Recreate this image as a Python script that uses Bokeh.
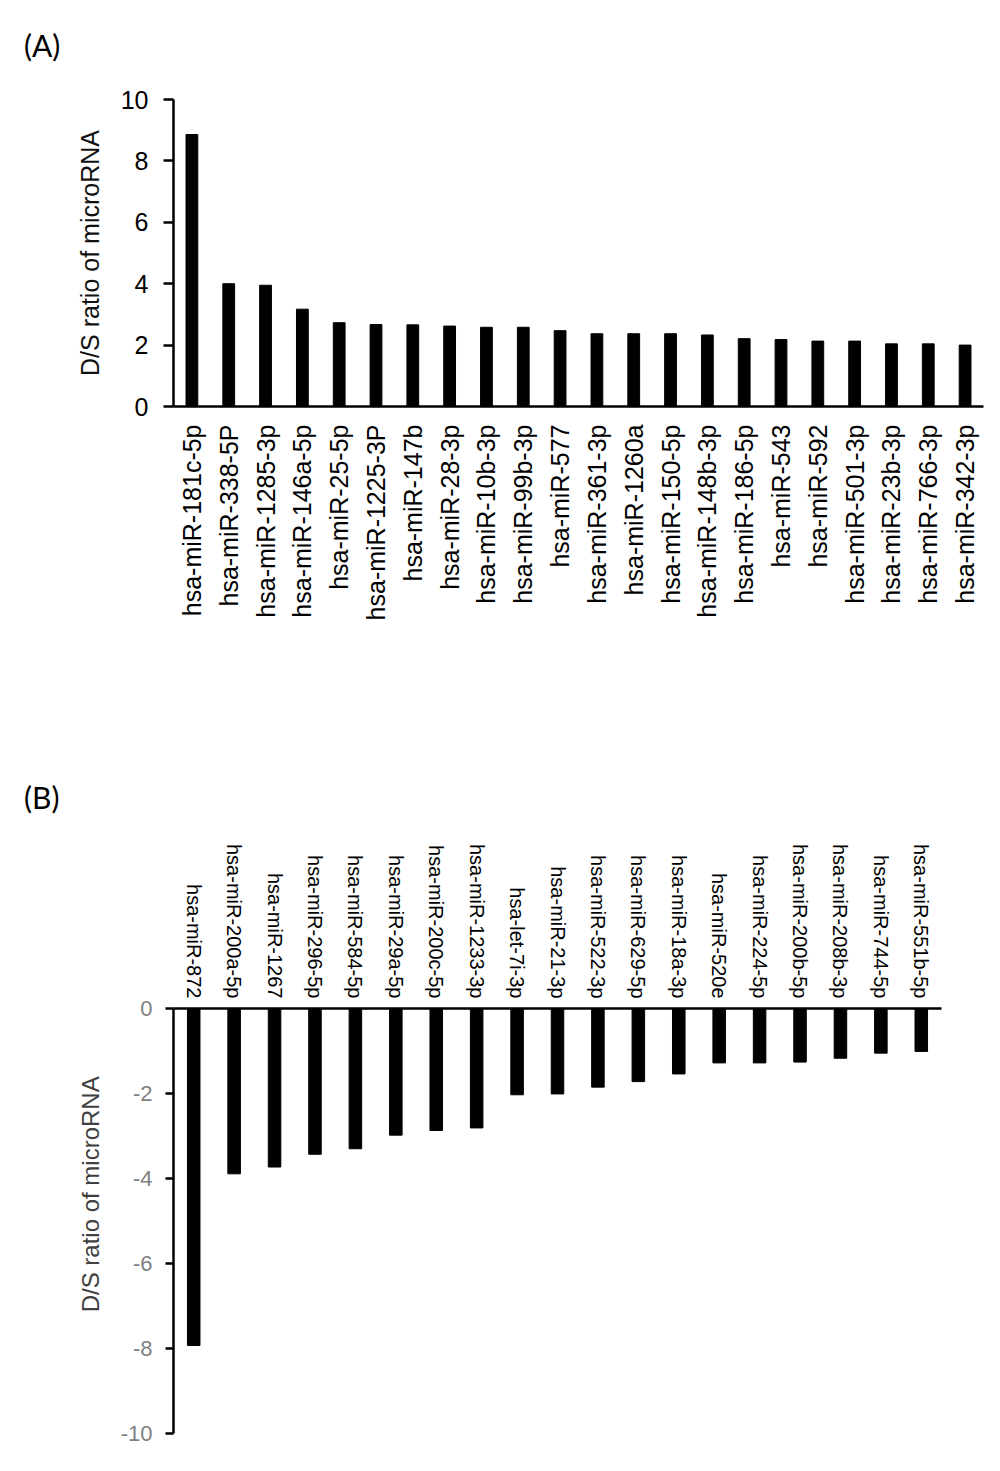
import math
from bokeh.plotting import figure
from bokeh.models import Div, FixedTicker, Range1d, CustomJSTickFormatter
from bokeh.layouts import column
from bokeh.embed import file_html
from bokeh.resources import INLINE

# ---- data ----
up_names = ["hsa-miR-181c-5p", "hsa-miR-338-5P", "hsa-miR-1285-3p", "hsa-miR-146a-5p",
            "hsa-miR-25-5p", "hsa-miR-1225-3P", "hsa-miR-147b", "hsa-miR-28-3p",
            "hsa-miR-10b-3p", "hsa-miR-99b-3p", "hsa-miR-577", "hsa-miR-361-3p",
            "hsa-miR-1260a", "hsa-miR-150-5p", "hsa-miR-148b-3p", "hsa-miR-186-5p",
            "hsa-miR-543", "hsa-miR-592", "hsa-miR-501-3p", "hsa-miR-23b-3p",
            "hsa-miR-766-3p", "hsa-miR-342-3p"]
up_values = [8.86, 4.00, 3.95, 3.17, 2.73, 2.67, 2.66, 2.62, 2.58, 2.58, 2.47, 2.37,
             2.37, 2.37, 2.33, 2.21, 2.18, 2.13, 2.13, 2.04, 2.04, 2.00]

down_names = ["hsa-miR-872", "hsa-miR-200a-5p", "hsa-miR-1267", "hsa-miR-296-5p",
              "hsa-miR-584-5p", "hsa-miR-29a-5p", "hsa-miR-200c-5p", "hsa-miR-1233-3p",
              "hsa-let-7i-3p", "hsa-miR-21-3p", "hsa-miR-522-3p", "hsa-miR-629-5p",
              "hsa-miR-18a-3p", "hsa-miR-520e", "hsa-miR-224-5p", "hsa-miR-200b-5p",
              "hsa-miR-208b-3p", "hsa-miR-744-5p", "hsa-miR-551b-5p"]
down_values = [-7.93, -3.89, -3.73, -3.43, -3.30, -2.98, -2.87, -2.81, -2.03, -2.01,
               -1.85, -1.72, -1.54, -1.28, -1.28, -1.26, -1.17, -1.05, -1.01]

up_ticks = [0, 2, 4, 6, 8, 10]
down_ticks = [-10, -8, -6, -4, -2, 0]
y_label = "D/S ratio of microRNA"

FONT = "Liberation Sans"


def style_common(p, lw):
    p.xgrid.visible = False
    p.ygrid.visible = False
    p.outline_line_color = None
    p.background_fill_color = "white"
    p.border_fill_color = "white"
    for ax in (p.xaxis[0], p.yaxis[0]):
        ax.axis_line_width = lw
        ax.axis_line_color = "black"
        ax.major_label_text_font = FONT
        ax.axis_label_text_font = FONT
        ax.axis_label_text_font_style = "normal"
        ax.minor_tick_line_color = None
    p.xaxis[0].major_tick_line_color = None
    p.xaxis[0].major_tick_out = 0
    p.xaxis[0].major_tick_in = 0
    p.yaxis[0].major_tick_in = 0
    p.yaxis[0].major_tick_line_width = lw
    p.yaxis[0].major_tick_line_color = "black"


# ---- panel A ----
pA = figure(x_range=up_names, y_range=Range1d(0, 10),
            frame_width=810, frame_height=307,
            min_border_left=173, min_border_right=10,
            min_border_top=24, min_border_bottom=234,
            output_backend="svg", toolbar_location=None)
pA.vbar(x=up_names, top=up_values, width=0.32, color="black")
style_common(pA, 2.5)
pA.yaxis.ticker = FixedTicker(ticks=up_ticks)
pA.yaxis.major_tick_out = 10
pA.yaxis.major_label_text_font_size = "25px"
pA.yaxis.major_label_text_color = "black"
pA.yaxis.major_label_standoff = 15
pA.yaxis.axis_label = y_label
pA.yaxis.axis_label_text_font_size = "25px"
pA.yaxis.axis_label_text_color = "#111111"
pA.yaxis.axis_label_standoff = 14
pA.xaxis.major_label_orientation = math.pi / 2
pA.xaxis.major_label_text_font_size = "25px"
pA.xaxis.major_label_text_color = "black"
pA.xaxis.major_label_standoff = 18

# ---- panel B ----
pB = figure(x_range=down_names, y_range=Range1d(-10, 0),
            frame_width=768, frame_height=425,
            min_border_left=163, min_border_right=30,
            min_border_top=183, min_border_bottom=20,
            x_axis_location="above",
            output_backend="svg", toolbar_location=None)
pB.vbar(x=down_names, top=0, bottom=down_values, width=0.31, color="black")
style_common(pB, 2.5)
pB.yaxis.ticker = FixedTicker(ticks=down_ticks)
pB.yaxis.formatter = CustomJSTickFormatter(code="return tick.toFixed(0);")
pB.yaxis.major_tick_out = 8
pB.yaxis.major_label_text_font_size = "22px"
pB.yaxis.major_label_text_color = "#7f7f7f"
pB.yaxis.major_label_standoff = 13
pB.yaxis.axis_label = "\u00a0" * 8 + y_label
pB.yaxis.axis_label_text_font_size = "24px"
pB.yaxis.axis_label_text_color = "#404040"
pB.yaxis.axis_label_standoff = 14
pB.xaxis.major_label_orientation = -math.pi / 2
pB.xaxis.major_label_text_font_size = "20px"
pB.xaxis.major_label_text_color = "black"
pB.xaxis.major_label_standoff = 10

divA = Div(text='<div style="font-family:Lato;font-size:30px;line-height:30px;'
                'padding:30px 0 0 24px;color:black;">(A)</div>',
           width=200, height=75, margin=(0, 0, 0, 0))
divB = Div(text='<div style="font-family:Lato;font-size:30px;line-height:30px;'
                'padding:142px 0 0 24px;color:black;">(B)</div>',
           width=200, height=185, margin=(0, 0, 0, 0))

layout = column(divA, pA, divB, pB, spacing=0)

open("out.html", "w").write(file_html(layout, INLINE))
